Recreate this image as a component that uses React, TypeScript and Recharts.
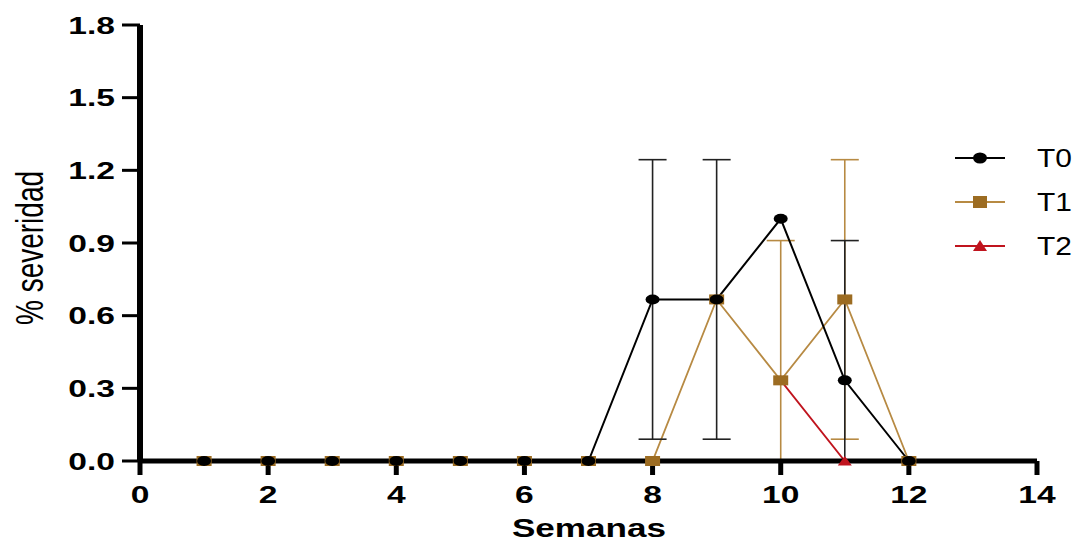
import React from 'react';
import { LineChart, Line, XAxis, YAxis, ErrorBar, Customized } from 'recharts';

const weeks = [1, 2, 3, 4, 5, 6, 7, 8, 9, 10, 11, 12];
const t0 = [0, 0, 0, 0, 0, 0, 0, 0.667, 0.667, 1.0, 0.333, 0];
const t0Err: (number[] | null)[] = [null, null, null, null, null, null, null, [0.577, 0.577], [0.577, 0.577], null, [0.333, 0.577], null];
const t1 = [0, 0, 0, 0, 0, 0, 0, 0, 0.667, 0.333, 0.667, 0];
const t1Err: (number[] | null)[] = [null, null, null, null, null, null, null, null, null, [0.333, 0.577], [0.577, 0.577], null];
const t2: (number | null)[] = [null, null, null, null, null, null, null, null, null, 0.333, 0, 0];

const xTicks = [0, 2, 4, 6, 8, 10, 12, 14];
const yTicks = [0, 0.3, 0.6, 0.9, 1.2, 1.5, 1.8];
const seriesNames = ['T0', 'T1', 'T2'];

const data = weeks.map((w, i) => ({
  week: w,
  t0: t0[i],
  t0Err: t0Err[i],
  t1: t1[i],
  t1Err: t1Err[i],
  t2: t2[i],
}));

const FONT = '"Liberation Sans", Arial, Helvetica, sans-serif';
const SX = 1.4;
const C0 = '#000000';
const C1 = '#B78A43';
const C1M = '#9C6C22';
const C2 = '#C0141E';

const Circle = (p: any) => {
  if (p.cx == null || p.cy == null) return <g key={p.key ?? `c${p.index}`} />;
  return <ellipse key={p.key ?? `c${p.index}`} cx={p.cx} cy={p.cy} rx={7} ry={5} fill={C0} />;
};
const Square = (p: any) => {
  if (p.cx == null || p.cy == null) return <g key={p.key ?? `s${p.index}`} />;
  return <rect key={p.key ?? `s${p.index}`} x={p.cx - 7.5} y={p.cy - 5} width={15} height={10} fill={C1M} />;
};
const Tri = (p: any) => {
  if (p.cx == null || p.cy == null) return <g key={p.key ?? `t${p.index}`} />;
  const { cx, cy } = p;
  return <polygon key={p.key ?? `t${p.index}`} points={`${cx - 7},${cy + 4.5} ${cx + 7},${cy + 4.5} ${cx},${cy - 5}`} fill={C2} />;
};

const XTick = (p: any) => (
  <text transform={`translate(${p.x},${p.y}) scale(${SX},1)`} textAnchor="middle" dy="0.72em" fontSize={24} fontWeight="bold" fontFamily={FONT} fill="#000">
    {p.payload.value}
  </text>
);
const YTick = (p: any) => (
  <text transform={`translate(${p.x},${p.y}) scale(${SX},1)`} textAnchor="end" dy="0.36em" fontSize={24} fontWeight="bold" fontFamily={FONT} fill="#000">
    {Number(p.payload.value).toFixed(1)}
  </text>
);

const Labels = () => (
  <g>
    <text transform={`translate(589,528) scale(1.35,1)`} textAnchor="middle" dy="0.36em" fontSize={26} fontWeight="bold" fontFamily={FONT} fill="#000">
      Semanas
    </text>
    <text transform={`translate(29,248) scale(${SX},1) rotate(-90)`} textAnchor="middle" dy="0.36em" fontSize={28} fontFamily={FONT} fill="#000">
      % severidad
    </text>
  </g>
);

const LegendBox = () => {
  const ys = [158, 202, 246];
  const colors = [C0, C1, C2];
  return (
    <g>
      {seriesNames.map((n, i) => {
        const y = ys[i];
        return (
          <g key={n}>
            <line x1={955} x2={1005} y1={y} y2={y} stroke={colors[i]} strokeWidth={2} />
            {i === 0 && <ellipse cx={980} cy={y} rx={7} ry={5.5} fill={C0} />}
            {i === 1 && <rect x={973} y={y - 6} width={14} height={12} fill={C1M} />}
            {i === 2 && <polygon points={`${973},${y + 5} ${987},${y + 5} ${980},${y - 6}`} fill={C2} />}
            <text transform={`translate(1037,${y}) scale(1.15,1)`} dy="0.36em" fontSize={26} fontFamily={FONT} fill="#000">
              {n}
            </text>
          </g>
        );
      })}
    </g>
  );
};

export default function App() {
  return (
    <div style={{ position: 'absolute', left: 0, top: 0, width: 1080, height: 545, background: '#fff' }}>
      <LineChart width={1080} height={545} data={data} margin={{ top: 25, right: 43, bottom: 24, left: 0 }}>
        <XAxis
          dataKey="week"
          type="number"
          domain={[0, 14]}
          ticks={xTicks}
          interval={0}
          height={60}
          axisLine={{ stroke: '#000', strokeWidth: 5 }}
          tickLine={{ stroke: '#000', strokeWidth: 5 }}
          tickSize={14}
          tickMargin={11}
          tick={<XTick />}
          allowDecimals={false}
        />
        <YAxis
          type="number"
          domain={[0, 1.8]}
          ticks={yTicks}
          interval={0}
          width={140}
          axisLine={{ stroke: '#000', strokeWidth: 6 }}
          tickLine={{ stroke: '#000', strokeWidth: 3 }}
          tickSize={18}
          tickMargin={7}
          tick={<YTick />}
        />
        <Line dataKey="t2" stroke={C2} strokeWidth={1.8} dot={Tri} activeDot={false} isAnimationActive={false} />
        <Line dataKey="t1" stroke={C1} strokeWidth={1.8} dot={Square} activeDot={false} isAnimationActive={false}>
          <ErrorBar dataKey="t1Err" direction="y" width={14} stroke={C1} strokeWidth={1.6} isAnimationActive={false} />
        </Line>
        <Line dataKey="t0" stroke={C0} strokeWidth={2} dot={Circle} activeDot={false} isAnimationActive={false}>
          <ErrorBar dataKey="t0Err" direction="y" width={14} stroke="#222" strokeWidth={1.6} isAnimationActive={false} />
        </Line>
        <Customized component={<Labels />} />
        <Customized component={<LegendBox />} />
      </LineChart>
    </div>
  );
}
